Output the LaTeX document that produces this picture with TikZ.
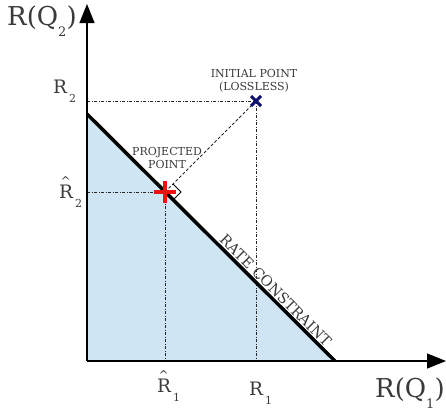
\documentclass[tikz,border=0pt]{standalone}
\usepackage{fontspec}
\setmainfont{DejaVu Serif}
\usetikzlibrary{arrows.meta,calc}
\definecolor{regionblue}{HTML}{CFE5F3}
\definecolor{txtgray}{HTML}{3A3A3A}
\definecolor{crossred}{HTML}{F01010}
\definecolor{crossnavy}{HTML}{101070}
\newcommand{\hatR}{\rlap{\raisebox{13pt}{\hspace{1.5pt}\fontsize{12}{12}\selectfont\symbol{"5E}}}R}
\begin{document}
\begin{tikzpicture}[x=1pt,y=-1pt,
  axis/.style={line width=1.2pt,black,-{Triangle[length=19pt,width=15pt]}},
  guide/.style={line width=0.8pt,black!85,dash pattern=on 3pt off 1.5pt on 1pt off 1.5pt},
  guidedash/.style={line width=0.8pt,black!85,dash pattern=on 3pt off 2pt},
  biglabel/.style={font=\fontsize{26}{26}\selectfont,text=txtgray,inner sep=0pt,anchor=base west},
  midlabel/.style={font=\fontsize{18.5}{18.5}\selectfont,text=txtgray,inner sep=0pt,anchor=base west},
  smalllabel/.style={font=\fontsize{11}{13}\selectfont,text=txtgray,align=center,inner sep=0pt,anchor=base}]
\useasboundingbox (0,0) rectangle (446,413);
% region
\fill[regionblue] (87,114) -- (335,361) -- (87,361) -- cycle;
% coordinates
\coordinate (O) at (87,361);
\coordinate (ytop) at (87,4);
\coordinate (xend) at (446,361);
\coordinate (cA) at (87,114);
\coordinate (cB) at (335,361);
\coordinate (init) at (256,101);
\coordinate (proj) at (165,192);
\coordinate (y2) at (87,101);
\coordinate (x1) at (256,361);
\coordinate (y2h) at (87,192);
\coordinate (x1h) at (165,361);
% guides
\draw[guide] (y2) -- (init);
\draw[guide] (init) -- (x1);
\draw[guide] (y2h) -- (proj);
\draw[guide] (proj) -- (x1h);
\draw[guidedash] (proj) -- (init);
% right angle marker
\draw[line width=0.8pt,black] ($(proj)+(8,-8)$) -- ($(proj)+(16,0)$) -- ($(proj)+(8,8)$);
% constraint
\draw[line width=3.5pt,black] (cA) -- (cB);
% axes
\draw[axis] (O) -- (ytop);
\draw[axis] (O) -- (xend);
% markers
\draw[crossred,line width=4pt] (proj) ++(-11,0) -- ++(22,0);
\draw[crossred,line width=4pt] (proj) ++(0,-11) -- ++(0,22);
\draw[crossnavy,line width=3pt] (init) ++(-5,-5) -- ++(10,10);
\draw[crossnavy,line width=3pt] (init) ++(-5,5) -- ++(10,-10);
% labels
\node[biglabel] (lq2) at (7,25) {R(Q\raisebox{-11pt}{\fontsize{13}{13}\selectfont 2})};
\node[biglabel] (lq1) at (375,397) {R(Q\raisebox{-11pt}{\fontsize{13}{13}\selectfont 1})};
\node[midlabel] (lr2) at (53,93) {R\kern2pt\raisebox{-9pt}{\fontsize{11}{11}\selectfont 2}};
\node[midlabel] (lr2h) at (59,198) {\hatR\kern2pt\raisebox{-9pt}{\fontsize{11}{11}\selectfont 2}};
\node[midlabel] (lr1h) at (157,392) {\hatR\kern2pt\raisebox{-9pt}{\fontsize{11}{11}\selectfont 1}};
\node[midlabel] (lr1) at (249,395) {R\kern2pt\raisebox{-9pt}{\fontsize{11}{11}\selectfont 1}};
\node[smalllabel] (linit) at (254,90) {INITIAL POINT\\(LOSSLESS)};
\node[smalllabel] (lproj) at (167,168) {PROJECTED\\POINT};
\node[font=\fontsize{14.5}{14.5}\selectfont,text=txtgray,rotate=-45,anchor=base,inner sep=0pt] (lrc) at (272,294) {RATE CONSTRAINT};
\end{tikzpicture}
\end{document}
